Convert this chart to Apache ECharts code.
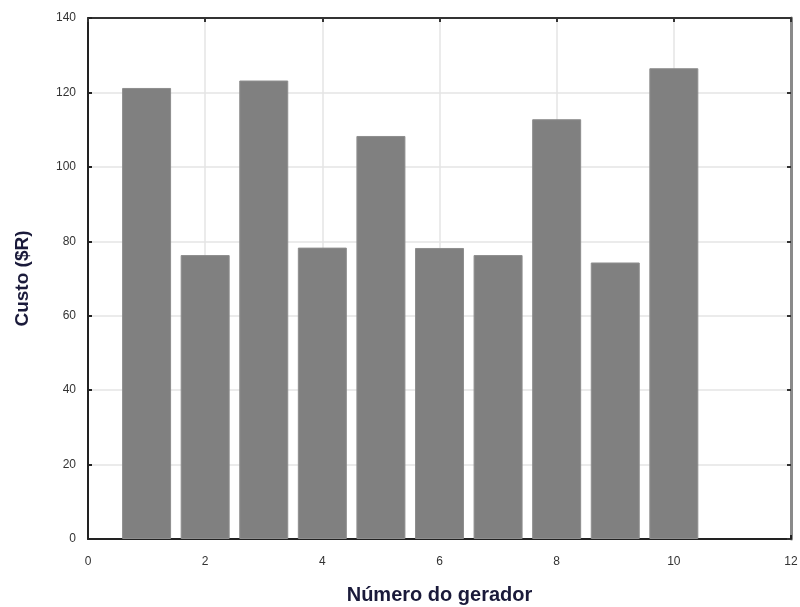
<!DOCTYPE html>
<html>
<head>
<meta charset="utf-8">
<script src="https://cdn.jsdelivr.net/npm/echarts@6/dist/echarts.min.js"></script>
<style>
  html, body { margin: 0; padding: 0; background: #fff; }
  #chart { width: 800px; height: 607px; }
</style>
</head>
<body>
<div id="chart"></div>
<script>
// Generator numbers and their cost
const generators = [1, 2, 3, 4, 5, 6, 7, 8, 9, 10];
const costs = [121.2, 76.3, 123.2, 78.3, 108.3, 78.2, 76.3, 112.8, 74.3, 126.5];

const xTicks = { min: 0, max: 12, interval: 2 };
const yTicks = { min: 0, max: 140, interval: 20 };

const chart = echarts.init(document.getElementById('chart'));

const tickFont = { fontFamily: 'Liberation Sans, Arial, sans-serif', fontSize: 12, color: '#333' };
const titleFont = { fontFamily: 'Liberation Sans, Arial, sans-serif', fontWeight: 'bold', color: '#1a1a3a' };

chart.setOption({
  animation: false,
  grid: { left: 88, right: 9, top: 18, bottom: 68, containLabel: false, outerBoundsMode: 'none' },
  xAxis: [
    {
      type: 'value', position: 'bottom',
      min: xTicks.min, max: xTicks.max, interval: xTicks.interval,
      name: 'Número do gerador', nameLocation: 'middle', nameGap: 46,
      nameTextStyle: Object.assign({ fontSize: 20 }, titleFont),
      axisLine: { show: true, onZero: false, lineStyle: { color: '#222', width: 2 } },
      axisTick: { show: true, inside: true, length: 4, lineStyle: { color: '#222', width: 2 } },
      axisLabel: Object.assign({ margin: 17 }, tickFont),
      splitLine: { show: true, lineStyle: { color: '#e4e4e4', width: 1.5 } }
    },
    {
      type: 'value', position: 'top',
      min: xTicks.min, max: xTicks.max, interval: xTicks.interval,
      axisLine: { show: true, onZero: false, lineStyle: { color: '#333', width: 2 } },
      axisTick: { show: true, inside: true, length: 4, lineStyle: { color: '#333', width: 2 } },
      axisLabel: { show: false },
      splitLine: { show: false }
    }
  ],
  yAxis: [
    {
      type: 'value', position: 'left',
      min: yTicks.min, max: yTicks.max, interval: yTicks.interval,
      name: 'Custo ($R)', nameLocation: 'middle', nameGap: 56,
      nameTextStyle: Object.assign({ fontSize: 19 }, titleFont),
      axisLine: { show: true, onZero: false, lineStyle: { color: '#222', width: 2 } },
      axisTick: { show: true, inside: true, length: 4, lineStyle: { color: '#222', width: 2 } },
      axisLabel: Object.assign({ margin: 12 }, tickFont),
      splitLine: { show: true, lineStyle: { color: '#e4e4e4', width: 1.5 } }
    },
    {
      type: 'value', position: 'right',
      min: yTicks.min, max: yTicks.max, interval: yTicks.interval,
      axisLine: { show: true, onZero: false, lineStyle: { color: '#8a8a8a', width: 3 } },
      axisTick: { show: true, inside: true, length: 4, lineStyle: { color: '#333', width: 2 } },
      axisLabel: { show: false },
      splitLine: { show: false }
    }
  ],
  series: [
    {
      type: 'bar',
      xAxisIndex: 0, yAxisIndex: 0,
      barWidth: 49,
      itemStyle: { color: '#808080', borderColor: '#8e8e8e', borderWidth: 1 },
      data: generators.map((g, i) => [g, costs[i]])
    }
  ]
});
</script>
</body>
</html>
